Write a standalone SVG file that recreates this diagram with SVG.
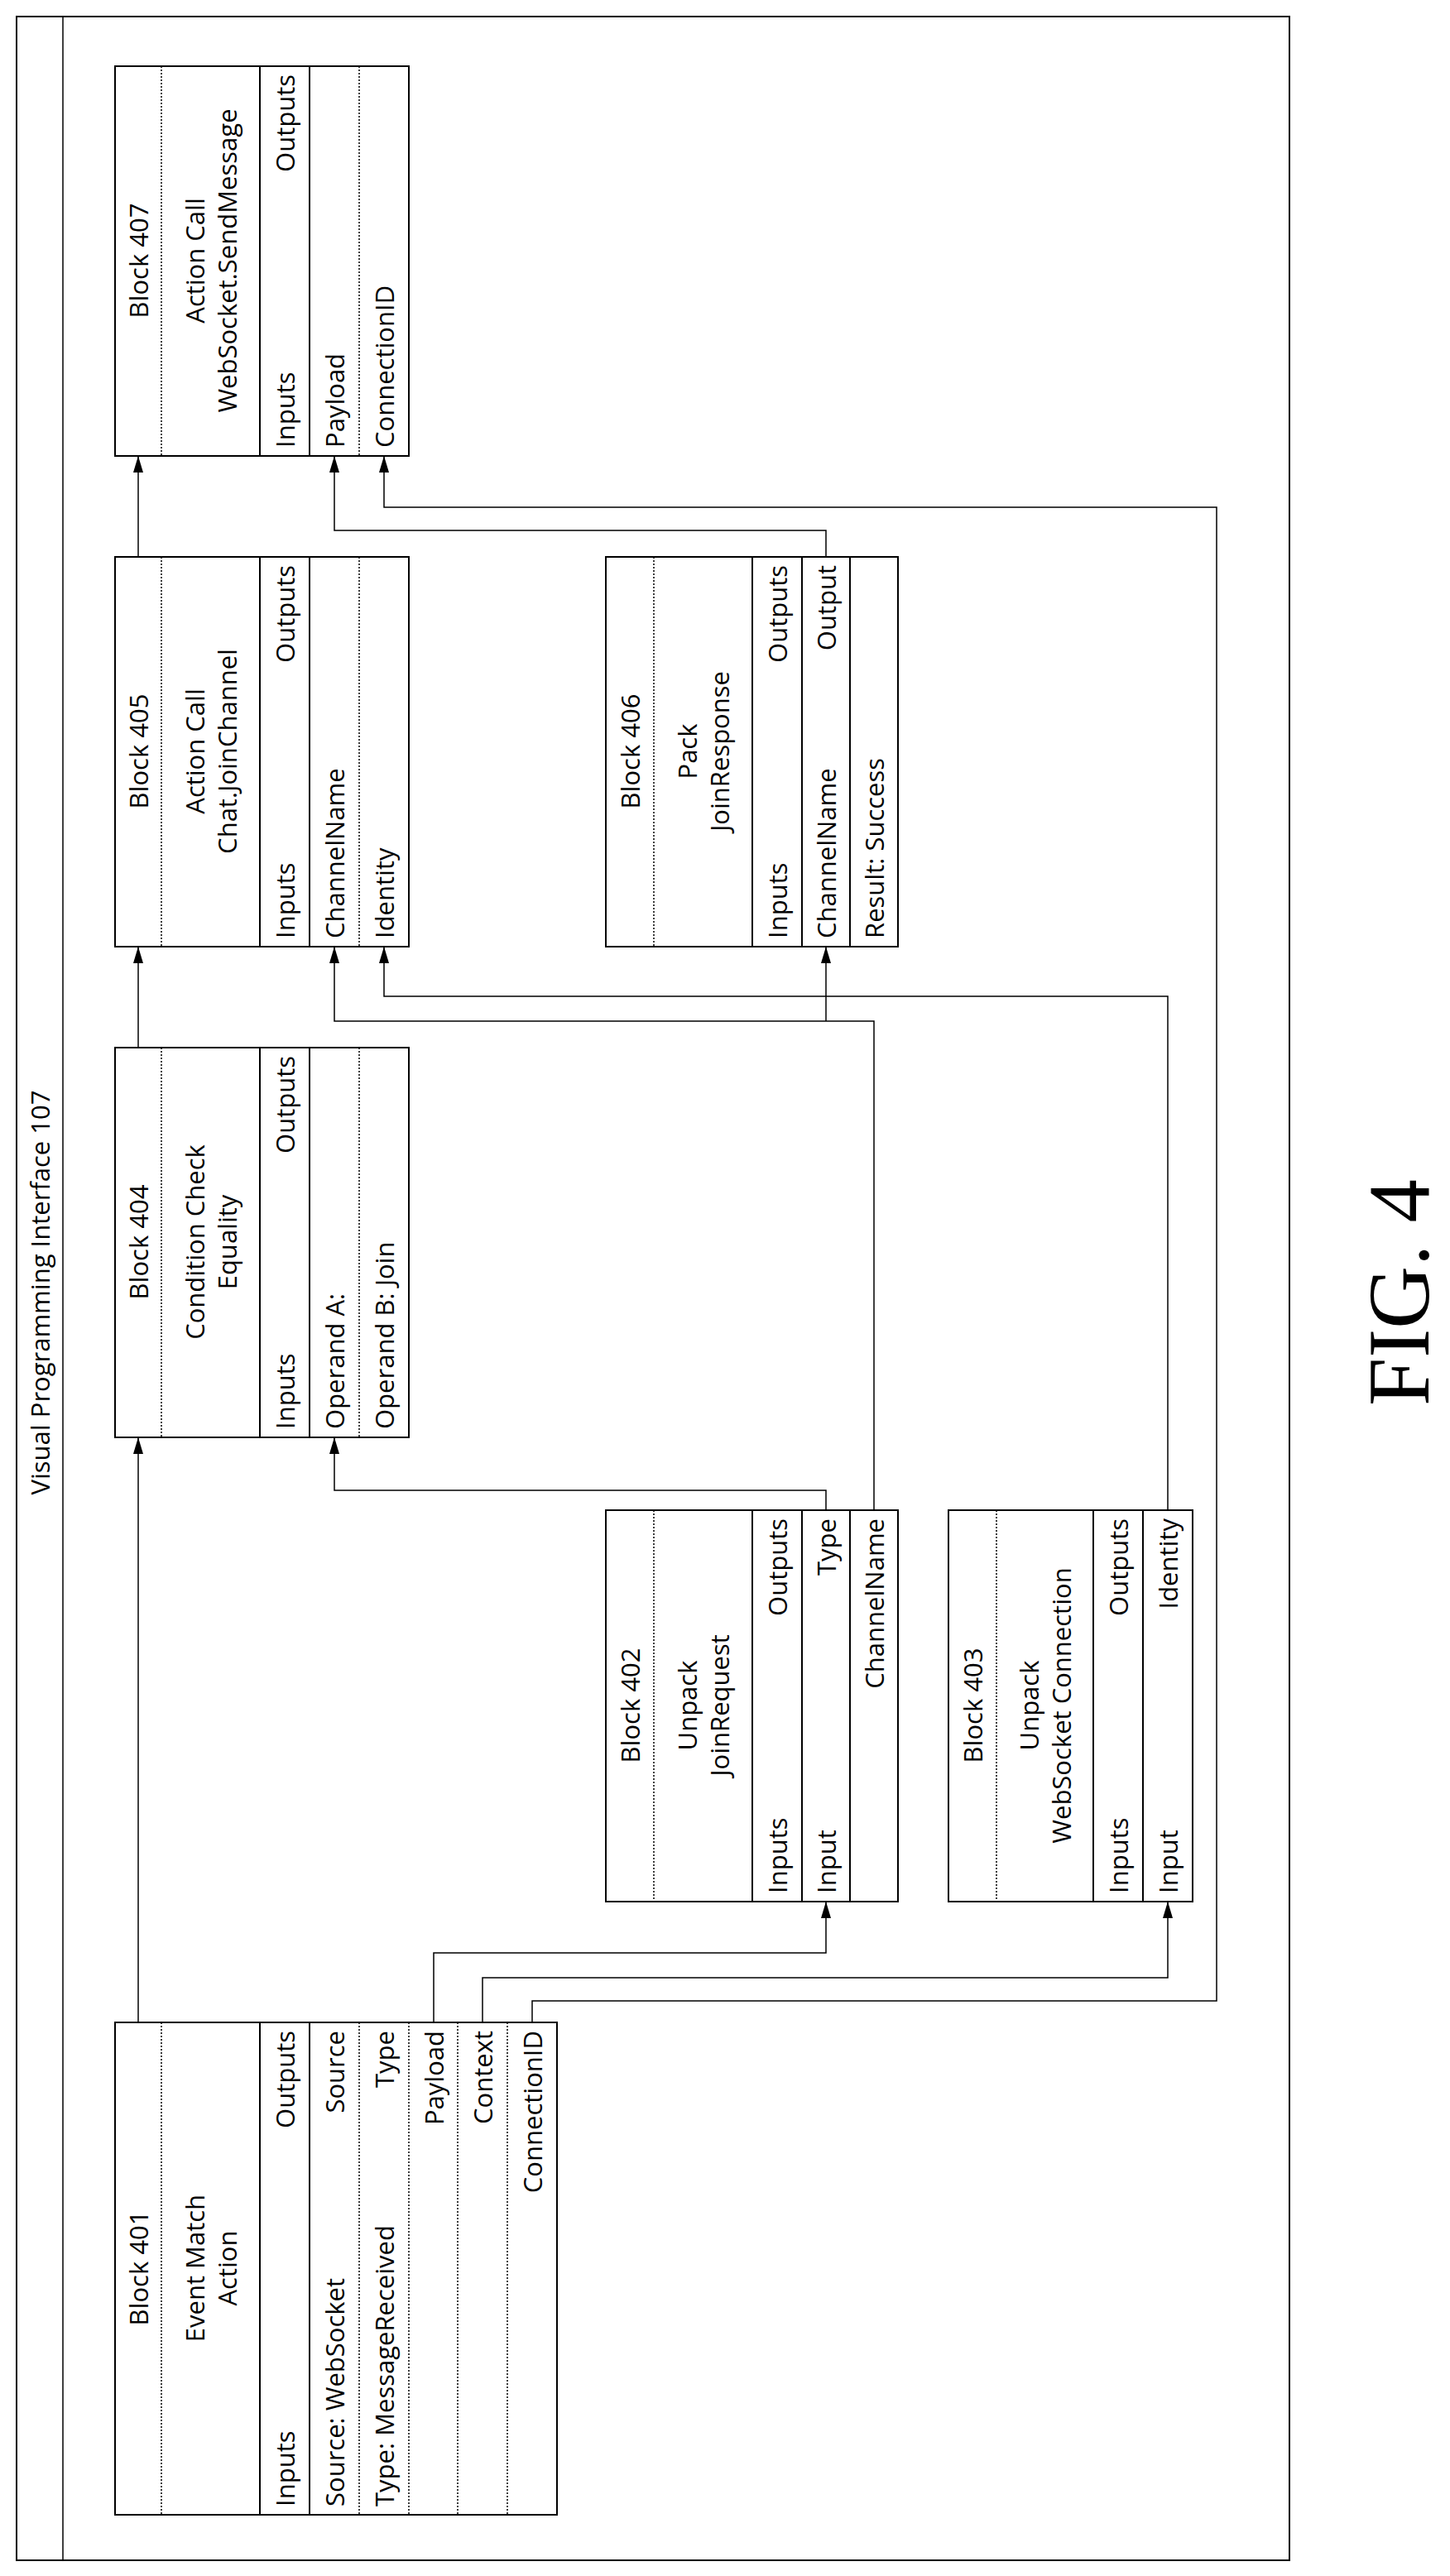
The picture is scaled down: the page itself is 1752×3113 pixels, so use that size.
<svg xmlns="http://www.w3.org/2000/svg" width="1752" height="3113" viewBox="0 0 1752 3113">
<style>
.s{stroke:#000;stroke-width:2;fill:none}
.d{stroke:#000;stroke-width:1.5;fill:none;stroke-dasharray:2 2}
.c{stroke:#000;stroke-width:1.5;fill:none}
text{font-family:"Open Sans","Liberation Sans",sans-serif;font-size:31px;fill:#000;dominant-baseline:central}
.m{text-anchor:middle}.e{text-anchor:end}
</style>
<defs>
<marker id="ar" viewBox="0 0 20 12" refX="20" refY="6" markerWidth="20" markerHeight="12" markerUnits="userSpaceOnUse" orient="auto"><path d="M0,0L20,6L0,12z" fill="#000"/></marker></defs>
<rect x="0" y="0" width="1752" height="3113" fill="#fff"/>
<g id="frame">
<rect class="s" x="20" y="20" width="1538" height="3074"/>
<line class="c" x1="76" y1="20" x2="76" y2="3094"/>
<text class="m" transform="translate(48,1562) rotate(-90)">Visual Programming Interface 107</text>
</g>
<g id="b407">
<rect class="s" x="139" y="80" width="355" height="471"/>
<line class="d" x1="195" y1="80" x2="195" y2="551"/><line class="s" x1="314" y1="80" x2="314" y2="551"/><line class="s" x1="374" y1="80" x2="374" y2="551"/><line class="d" x1="434" y1="80" x2="434" y2="551"/>
<text class="m" transform="translate(167,315) rotate(-90)">Block 407</text>
<text class="m" transform="translate(235,315) rotate(-90)">Action Call</text>
<text class="m" transform="translate(274,315) rotate(-90)">WebSocket.SendMessage</text>
<text transform="translate(344,541) rotate(-90)">Inputs</text>
<text class="e" transform="translate(344,90) rotate(-90)">Outputs</text>
<text transform="translate(404,541) rotate(-90)">Payload</text>
<text transform="translate(464,541) rotate(-90)">ConnectionID</text>
</g>
<g id="b405">
<rect class="s" x="139" y="673" width="355" height="471"/>
<line class="d" x1="195" y1="673" x2="195" y2="1144"/><line class="s" x1="314" y1="673" x2="314" y2="1144"/><line class="s" x1="374" y1="673" x2="374" y2="1144"/><line class="d" x1="434" y1="673" x2="434" y2="1144"/>
<text class="m" transform="translate(167,908) rotate(-90)">Block 405</text>
<text class="m" transform="translate(235,908) rotate(-90)">Action Call</text>
<text class="m" transform="translate(274,908) rotate(-90)">Chat.JoinChannel</text>
<text transform="translate(344,1134) rotate(-90)">Inputs</text>
<text class="e" transform="translate(344,683) rotate(-90)">Outputs</text>
<text transform="translate(404,1134) rotate(-90)">ChannelName</text>
<text transform="translate(464,1134) rotate(-90)">Identity</text>
</g>
<g id="b404">
<rect class="s" x="139" y="1266" width="355" height="471"/>
<line class="d" x1="195" y1="1266" x2="195" y2="1737"/><line class="s" x1="314" y1="1266" x2="314" y2="1737"/><line class="s" x1="374" y1="1266" x2="374" y2="1737"/><line class="d" x1="434" y1="1266" x2="434" y2="1737"/>
<text class="m" transform="translate(167,1501) rotate(-90)">Block 404</text>
<text class="m" transform="translate(235,1501) rotate(-90)">Condition Check</text>
<text class="m" transform="translate(274,1501) rotate(-90)">Equality</text>
<text transform="translate(344,1727) rotate(-90)">Inputs</text>
<text class="e" transform="translate(344,1276) rotate(-90)">Outputs</text>
<text transform="translate(404,1727) rotate(-90)">Operand A:</text>
<text transform="translate(464,1727) rotate(-90)">Operand B: Join</text>
</g>
<g id="b406">
<rect class="s" x="732" y="673" width="353" height="471"/>
<line class="d" x1="790" y1="673" x2="790" y2="1144"/><line class="s" x1="909" y1="673" x2="909" y2="1144"/><line class="s" x1="969" y1="673" x2="969" y2="1144"/><line class="s" x1="1027" y1="673" x2="1027" y2="1144"/>
<text class="m" transform="translate(761,908) rotate(-90)">Block 406</text>
<text class="m" transform="translate(830,908) rotate(-90)">Pack</text>
<text class="m" transform="translate(869,908) rotate(-90)">JoinResponse</text>
<text transform="translate(939,1134) rotate(-90)">Inputs</text>
<text class="e" transform="translate(939,683) rotate(-90)">Outputs</text>
<text transform="translate(998,1134) rotate(-90)">ChannelName</text>
<text class="e" transform="translate(998,683) rotate(-90)">Output</text>
<text transform="translate(1056,1134) rotate(-90)">Result: Success</text>
</g>
<g id="b402">
<rect class="s" x="732" y="1825" width="353" height="473"/>
<line class="d" x1="790" y1="1825" x2="790" y2="2298"/><line class="s" x1="909" y1="1825" x2="909" y2="2298"/><line class="s" x1="969" y1="1825" x2="969" y2="2298"/><line class="s" x1="1027" y1="1825" x2="1027" y2="2298"/>
<text class="m" transform="translate(761,2061) rotate(-90)">Block 402</text>
<text class="m" transform="translate(830,2061) rotate(-90)">Unpack</text>
<text class="m" transform="translate(869,2061) rotate(-90)">JoinRequest</text>
<text transform="translate(939,2288) rotate(-90)">Inputs</text>
<text class="e" transform="translate(939,1835) rotate(-90)">Outputs</text>
<text transform="translate(998,2288) rotate(-90)">Input</text>
<text class="e" transform="translate(998,1835) rotate(-90)">Type</text>
<text class="e" transform="translate(1056,1835) rotate(-90)">ChannelName</text>
</g>
<g id="b403">
<rect class="s" x="1146" y="1825" width="295" height="473"/>
<line class="d" x1="1204" y1="1825" x2="1204" y2="2298"/><line class="s" x1="1321" y1="1825" x2="1321" y2="2298"/><line class="s" x1="1381" y1="1825" x2="1381" y2="2298"/>
<text class="m" transform="translate(1175,2061) rotate(-90)">Block 403</text>
<text class="m" transform="translate(1243,2061) rotate(-90)">Unpack</text>
<text class="m" transform="translate(1282,2061) rotate(-90)">WebSocket Connection</text>
<text transform="translate(1351,2288) rotate(-90)">Inputs</text>
<text class="e" transform="translate(1351,1835) rotate(-90)">Outputs</text>
<text transform="translate(1411,2288) rotate(-90)">Input</text>
<text class="e" transform="translate(1411,1835) rotate(-90)">Identity</text>
</g>
<g id="b401">
<rect class="s" x="139" y="2444" width="534" height="595"/>
<line class="d" x1="195" y1="2444" x2="195" y2="3039"/><line class="s" x1="314" y1="2444" x2="314" y2="3039"/><line class="s" x1="374" y1="2444" x2="374" y2="3039"/><line class="d" x1="434" y1="2444" x2="434" y2="3039"/><line class="d" x1="494" y1="2444" x2="494" y2="3039"/><line class="d" x1="553" y1="2444" x2="553" y2="3039"/><line class="d" x1="613" y1="2444" x2="613" y2="3039"/>
<text class="m" transform="translate(167,2741) rotate(-90)">Block 401</text>
<text class="m" transform="translate(235,2741) rotate(-90)">Event Match</text>
<text class="m" transform="translate(274,2741) rotate(-90)">Action</text>
<text transform="translate(344,3029) rotate(-90)">Inputs</text>
<text class="e" transform="translate(344,2454) rotate(-90)">Outputs</text>
<text transform="translate(404,3029) rotate(-90)">Source: WebSocket</text>
<text class="e" transform="translate(404,2454) rotate(-90)">Source</text>
<text transform="translate(464,3029) rotate(-90)">Type: MessageReceived</text>
<text class="e" transform="translate(464,2454) rotate(-90)">Type</text>
<text class="e" transform="translate(524,2454) rotate(-90)">Payload</text>
<text class="e" transform="translate(583,2454) rotate(-90)">Context</text>
<text class="e" transform="translate(643,2454) rotate(-90)">ConnectionID</text>
</g>
<g id="connectors">
<path class="c" marker-end="url(#ar)" d="M167,2444V1737"/>
<path class="c" marker-end="url(#ar)" d="M167,1266V1144"/>
<path class="c" marker-end="url(#ar)" d="M167,673V551"/>
<path class="c" marker-end="url(#ar)" d="M524,2444V2360H998V2298"/>
<path class="c" marker-end="url(#ar)" d="M583,2444V2390H1411V2298"/>
<path class="c" marker-end="url(#ar)" d="M643,2444V2418H1470V613H464V551"/>
<path class="c" marker-end="url(#ar)" d="M998,1825V1801H404V1737"/>
<path class="c" marker-end="url(#ar)" d="M1056,1825V1234H404V1144"/>
<path class="c" marker-end="url(#ar)" d="M998,1234V1144"/>
<path class="c" marker-end="url(#ar)" d="M1411,1825V1204H464V1144"/>
<path class="c" marker-end="url(#ar)" d="M998,673V641H404V551"/>
</g>
<text x="1690" y="1562" text-anchor="middle" transform="rotate(-90 1690 1562)" style="font-family:'Liberation Serif',serif;font-size:105px">FIG. 4</text>
</svg>
